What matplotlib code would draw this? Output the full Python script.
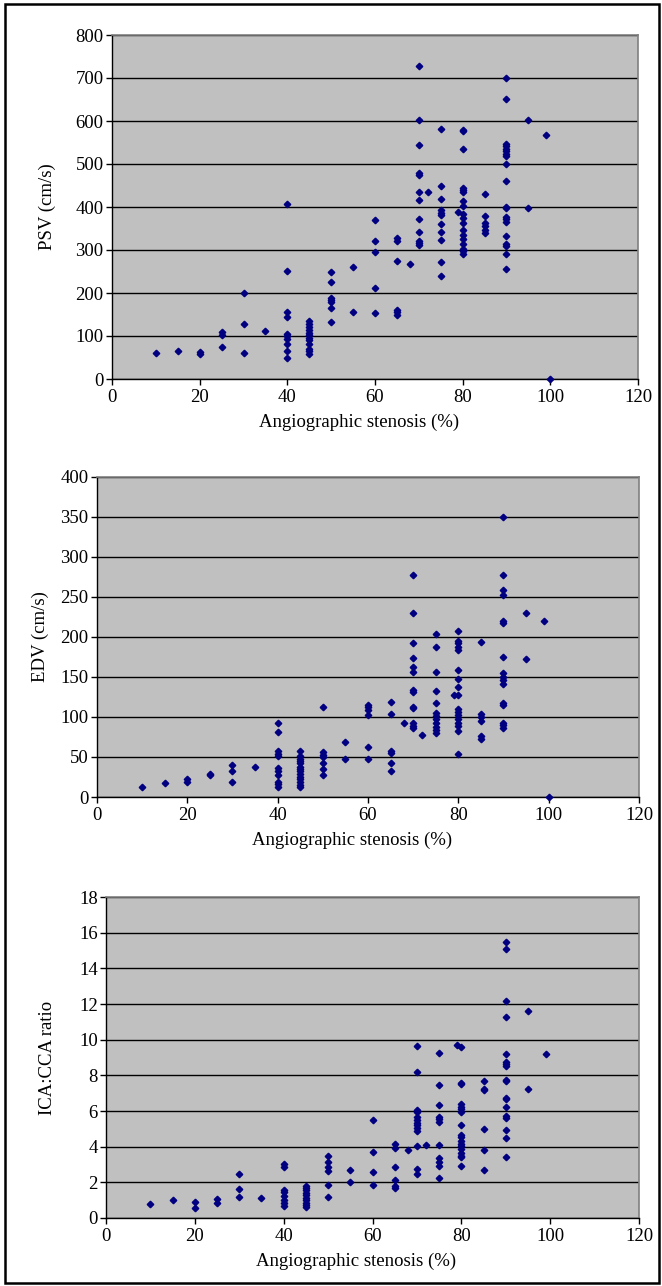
import matplotlib
matplotlib.use("Agg")
import matplotlib.pyplot as plt
from matplotlib.patches import Rectangle

# ==========================================================
# DATA
# ==========================================================

x_ticks = [0, 20, 40, 60, 80, 100, 120]
x_label = "Angiographic stenosis (%)"

# --- PSV panel ---
psv_stenosis = [10, 15, 20, 25, 30, 35, 40, 45, 50, 55, 60, 65, 68, 70, 72,
                75, 79, 80, 85, 90, 95, 99, 100]
psv_values = [
    [61], [65], [58, 62], [109, 102, 74], [200, 128, 61], [112],
    [408, 251, 156, 144, 105, 99, 94, 81, 64, 48],
    [135, 129, 121, 113, 107, 102, 96, 90, 81, 69, 64, 59],
    [250, 226, 189, 184, 179, 166, 132],
    [260, 155],
    [369, 322, 296, 211, 153],
    [327, 322, 275, 161, 156, 150],
    [267],
    [728, 602, 544, 478, 475, 435, 416, 373, 342, 320, 316, 312],
    [435],
    [581, 450, 419, 392, 386, 381, 361, 343, 324, 271, 239],
    [388],
    [579, 577, 534, 445, 440, 436, 414, 402, 384, 374, 363, 346, 334, 326,
     314, 302, 297, 291],
    [431, 378, 363, 355, 347, 340],
    [700, 651, 547, 542, 536, 530, 524, 519, 501, 460, 400, 397, 377, 371,
     366, 333, 314, 309, 291, 256],
    [602, 398],
    [567],
    [0],
]
psv_ticks = [0, 100, 200, 300, 400, 500, 600, 700, 800]

# --- EDV panel ---
edv_stenosis = [10, 15, 20, 25, 30, 35, 40, 45, 50, 55, 60, 65, 68, 70, 72,
                75, 79, 80, 85, 90, 95, 99, 100]
edv_values = [
    [13], [18], [22, 19], [29, 27], [40, 33, 19], [37],
    [92, 81, 57, 54, 51, 36, 33, 27, 19, 16, 13],
    [57, 51, 47, 45, 42, 38, 35, 32, 29, 25, 22, 19, 15, 12],
    [112, 56, 53, 50, 43, 35, 27],
    [69, 48],
    [115, 112, 109, 103, 63, 47],
    [119, 104, 57, 55, 43, 32],
    [93],
    [277, 230, 192, 174, 163, 156, 134, 131, 113, 111, 92, 89, 86],
    [77],
    [204, 188, 156, 132, 117, 105, 101, 97, 92, 88, 84, 80],
    [127],
    [207, 195, 192, 188, 184, 159, 148, 137, 127, 110, 106, 102, 97, 93, 89,
     83, 54],
    [194, 104, 100, 95, 76, 72],
    [350, 278, 259, 252, 220, 217, 175, 155, 150, 146, 141, 118, 115, 93, 90,
     86],
    [230, 173],
    [220],
    [0],
]
edv_ticks = [0, 50, 100, 150, 200, 250, 300, 350, 400]

# --- ICA:CCA ratio panel ---
ratio_stenosis = [10, 15, 20, 25, 30, 35, 40, 45, 50, 55, 60, 65, 68, 70, 72,
                  75, 79, 80, 85, 90, 95, 99]
ratio_values = [
    [0.78], [1.03], [0.91, 0.54], [1.06, 0.84], [2.48, 1.62, 1.18], [1.12],
    [3.02, 2.85, 1.55, 1.44, 1.21, 1.03, 0.84, 0.65],
    [1.81, 1.68, 1.55, 1.40, 1.27, 1.12, 0.99, 0.84, 0.71, 0.62],
    [3.45, 3.12, 2.85, 2.61, 1.85, 1.18],
    [2.67, 2.01],
    [5.5, 3.68, 2.56, 1.85],
    [4.16, 3.92, 2.85, 2.11, 1.78, 1.68],
    [3.79],
    [9.65, 8.18, 6.07, 5.94, 5.65, 5.5, 5.35, 5.19, 5.04, 4.89, 4.01, 2.74,
     2.48],
    [4.07],
    [9.27, 7.44, 6.32, 5.69, 5.54, 5.39, 4.07, 3.36, 3.12, 2.89, 2.24],
    [9.68],
    [9.61, 7.56, 7.50, 6.38, 6.25, 6.1, 5.97, 5.19, 4.66, 4.53, 4.29, 4.16,
     4.01, 3.88, 3.64, 3.49, 3.4, 2.89],
    [7.69, 7.26, 7.15, 4.98, 3.84, 2.71],
    [15.48, 15.11, 12.18, 11.29, 9.18, 8.77, 8.64, 8.54, 7.74, 7.67, 6.75,
     6.66, 6.25, 5.73, 5.63, 4.91, 4.5, 3.43],
    [11.59, 7.22],
    [9.18],
]
ratio_ticks = [0, 2, 4, 6, 8, 10, 12, 14, 16, 18]

# ==========================================================
# FIGURE SETUP
# ==========================================================

W, H = 662, 1286
DPI = 100
FS = 13.5

plt.rcParams["font.family"] = ["Liberation Serif", "DejaVu Serif"]

fig = plt.figure(figsize=(W / DPI, H / DPI), dpi=DPI)
fig.patch.set_facecolor("white")

# black frame around the whole figure (pixel coords)
frame_l, frame_t, frame_r, frame_b = 5, 4, 659, 1283
fig.patches.append(Rectangle((frame_l / W, 1 - frame_b / H),
                             (frame_r - frame_l) / W,
                             (frame_b - frame_t) / H,
                             transform=fig.transFigure, fill=False,
                             edgecolor="black", linewidth=1.8))


def px_rect(left, right, top, bottom):
    return [left / W, 1 - bottom / H, (right - left) / W, (bottom - top) / H]


def expand(stenosis, values):
    xs, ys = [], []
    for s, vals in zip(stenosis, values):
        for v in vals:
            xs.append(s)
            ys.append(v)
    return xs, ys


def draw_panel(rect, stenosis, values, y_ticks, y_label, ylabel_x):
    ax = fig.add_axes(px_rect(*rect))
    ax.set_facecolor("#C0C0C0")

    xs, ys = expand(stenosis, values)
    ax.plot(xs, ys, linestyle="none", marker="D", markersize=3.3,
            color="#000080", clip_on=False, zorder=3)

    ax.set_xlim(0, 120)
    ax.set_ylim(y_ticks[0], y_ticks[-1])
    ax.set_xticks(x_ticks)
    ax.set_yticks(y_ticks)

    ax.yaxis.grid(True, color="black", linewidth=1)
    ax.set_axisbelow(True)

    for side in ["top", "right"]:
        ax.spines[side].set_color("#808080")
        ax.spines[side].set_linewidth(1.2)
    for side in ["left", "bottom"]:
        ax.spines[side].set_color("black")
        ax.spines[side].set_linewidth(1)

    ax.tick_params(direction="out", length=4, width=1, labelsize=FS,
                   colors="black")
    ax.tick_params(axis="x", pad=3)
    ax.tick_params(axis="y", pad=2)

    left, right, top, bottom = rect
    # x axis title, slightly left of plot centre as in the original
    fig.text(((left + right) / 2 - 16) / W, 1 - (bottom + 43) / H, x_label,
             ha="center", va="center", fontsize=FS)
    fig.text(ylabel_x / W, 1 - ((top + bottom) / 2) / H, y_label,
             rotation=90, ha="center", va="center", fontsize=FS)
    return ax


draw_panel((112, 638, 35, 379), psv_stenosis, psv_values, psv_ticks,
           "PSV (cm/s)", 47)
draw_panel((97, 639, 477, 797), edv_stenosis, edv_values, edv_ticks,
           "EDV (cm/s)", 40)
draw_panel((106, 639, 897, 1218), ratio_stenosis, ratio_values, ratio_ticks,
           "ICA:CCA ratio", 47)

fig.savefig("out.png", dpi=DPI)
plt.close(fig)
